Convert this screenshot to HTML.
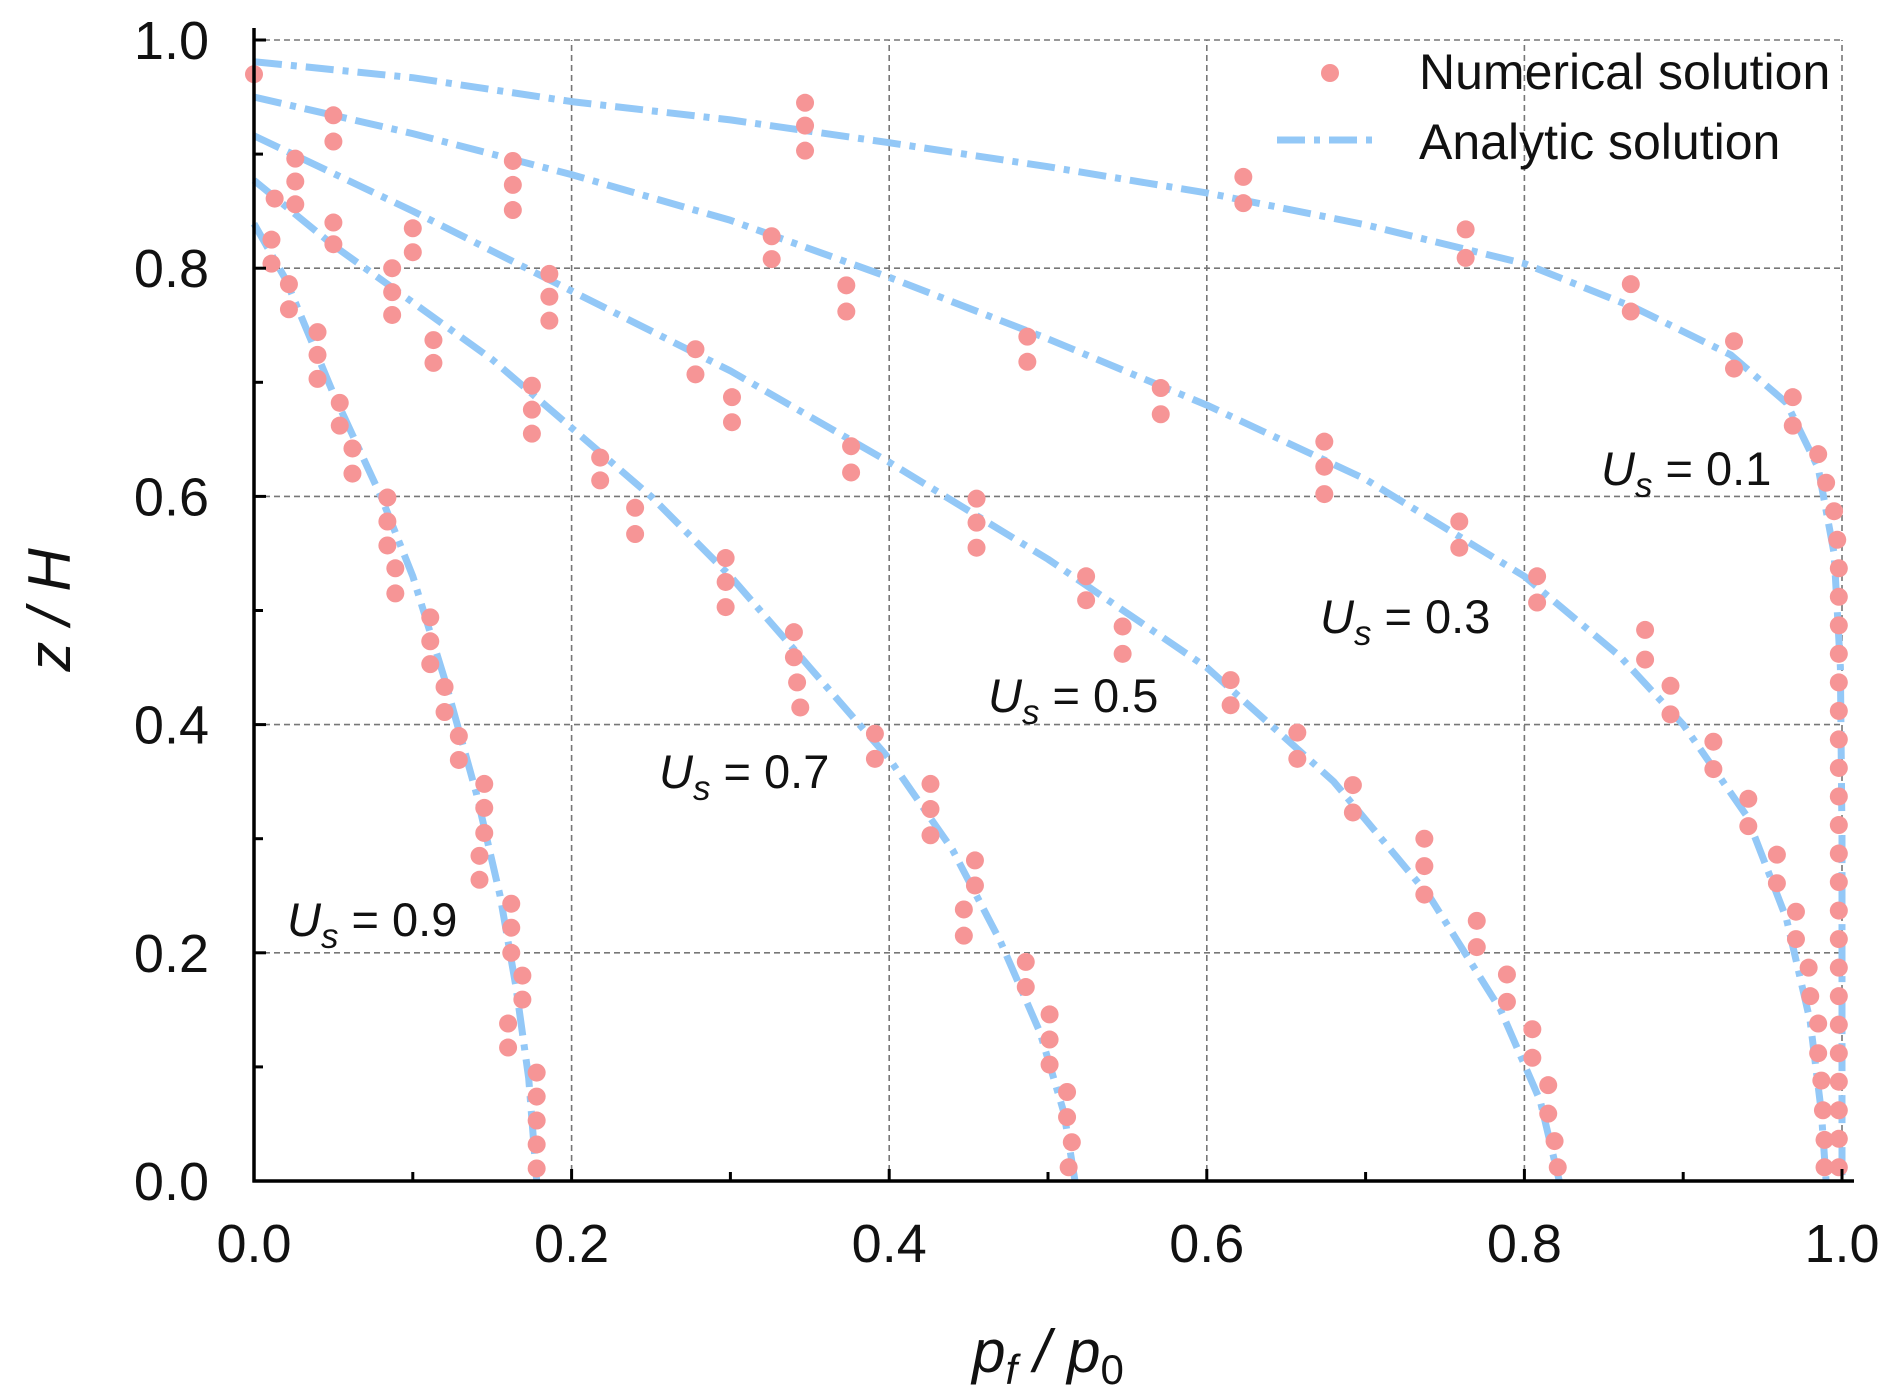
<!DOCTYPE html>
<html><head><meta charset="utf-8"><style>
html,body{margin:0;padding:0;background:#fff;}
svg{display:block;}
text{font-family:"Liberation Sans",Arial,sans-serif;fill:#111;}
</style></head><body>
<svg id="chart" width="1892" height="1400" viewBox="0 0 1892 1400" xmlns="http://www.w3.org/2000/svg">
<g id="grid"></g>
<g id="curves"></g>
<g id="dots"></g>
<g id="axes"></g>
<text x="1048" y="1372" font-size="60" font-style="italic" text-anchor="middle">p<tspan font-size="42" dy="12">f</tspan><tspan dy="-12"> / p</tspan><tspan font-size="42" dy="12" font-style="normal">0</tspan></text>
<text transform="translate(70,610) rotate(-90)" font-size="60" font-style="italic" text-anchor="middle">z / H</text>
<g>
<circle cx="1330" cy="73" r="9" fill="#f69596"/>
<text x="1419" y="89" font-size="50">Numerical solution</text>
<line x1="1277" y1="140" x2="1380" y2="140" stroke="#93c8f7" stroke-width="7" stroke-dasharray="28 9 6 9"/>
<text x="1419" y="159" font-size="50">Analytic solution</text>
</g>
<g font-size="47">
<text x="1601" y="485"><tspan font-style="italic">U</tspan><tspan font-style="italic" font-size="35" dy="12">s</tspan><tspan dy="-12"> = 0.1</tspan></text>
<text x="1320" y="633"><tspan font-style="italic">U</tspan><tspan font-style="italic" font-size="35" dy="12">s</tspan><tspan dy="-12"> = 0.3</tspan></text>
<text x="988" y="712"><tspan font-style="italic">U</tspan><tspan font-style="italic" font-size="35" dy="12">s</tspan><tspan dy="-12"> = 0.5</tspan></text>
<text x="659" y="788"><tspan font-style="italic">U</tspan><tspan font-style="italic" font-size="35" dy="12">s</tspan><tspan dy="-12"> = 0.7</tspan></text>
<text x="287" y="936"><tspan font-style="italic">U</tspan><tspan font-style="italic" font-size="35" dy="12">s</tspan><tspan dy="-12"> = 0.9</tspan></text>
</g>
</svg>
<script>
const xTicks = [0.0, 0.2, 0.4, 0.6, 0.8, 1.0];
const yTicks = [0.0, 0.2, 0.4, 0.6, 0.8, 1.0];
const tickLabels = ["0.0", "0.2", "0.4", "0.6", "0.8", "1.0"];

const curve01X = [0, 0.1, 0.2, 0.3, 0.4, 0.5, 0.6, 0.7, 0.8, 0.87, 0.93, 0.965, 0.985, 0.995, 0.999, 1.0, 1.0];
const curve01Z = [0.981, 0.967, 0.946, 0.93, 0.91, 0.889, 0.866, 0.838, 0.804, 0.765, 0.724, 0.682, 0.625, 0.55, 0.45, 0.3, 0.0];
const curve03X = [0, 0.1, 0.2, 0.3, 0.4, 0.5, 0.6, 0.7, 0.8, 0.86, 0.9, 0.94, 0.965, 0.98, 0.987, 0.99];
const curve03Z = [0.95, 0.918, 0.882, 0.842, 0.792, 0.738, 0.68, 0.615, 0.53, 0.46, 0.40, 0.32, 0.23, 0.14, 0.06, 0.0];
const curve05X = [0, 0.1, 0.2, 0.3, 0.4, 0.5, 0.6, 0.68, 0.74, 0.785, 0.81, 0.822];
const curve05Z = [0.916, 0.85, 0.78, 0.71, 0.63, 0.545, 0.45, 0.35, 0.25, 0.15, 0.07, 0.0];
const curve07X = [0, 0.05, 0.1, 0.15, 0.2, 0.25, 0.3, 0.35, 0.4, 0.44, 0.47, 0.495, 0.51, 0.517];
const curve07Z = [0.877, 0.82, 0.77, 0.72, 0.66, 0.60, 0.53, 0.45, 0.37, 0.29, 0.21, 0.13, 0.06, 0.0];
const curve09X = [0, 0.02, 0.05, 0.08, 0.1, 0.12, 0.14, 0.155, 0.165, 0.173, 0.178];
const curve09Z = [0.839, 0.79, 0.69, 0.60, 0.53, 0.44, 0.34, 0.25, 0.17, 0.09, 0.0];

const dots01X = [0, 0.347, 0.347, 0.347, 0.623, 0.623, 0.763, 0.763, 0.867, 0.867, 0.932, 0.932, 0.969, 0.969, 0.985, 0.99, 0.995, 0.997, 0.998, 0.998, 0.998, 0.998, 0.998, 0.998, 0.998, 0.998, 0.998, 0.998, 0.998, 0.998, 0.998, 0.998, 0.998, 0.998, 0.998, 0.998, 0.998, 0.998, 0.998, 0.998];
const dots01Z = [0.97, 0.945, 0.925, 0.903, 0.880, 0.857, 0.834, 0.809, 0.786, 0.762, 0.736, 0.712, 0.687, 0.662, 0.637, 0.612, 0.587, 0.562, 0.537, 0.512, 0.487, 0.462, 0.437, 0.412, 0.387, 0.362, 0.337, 0.312, 0.287, 0.262, 0.237, 0.212, 0.187, 0.162, 0.137, 0.112, 0.087, 0.062, 0.037, 0.012];
const dots03X = [0.05, 0.05, 0.163, 0.163, 0.163, 0.326, 0.326, 0.373, 0.373, 0.487, 0.487, 0.571, 0.571, 0.674, 0.674, 0.674, 0.759, 0.759, 0.808, 0.808, 0.876, 0.876, 0.892, 0.892, 0.919, 0.919, 0.941, 0.941, 0.959, 0.959, 0.971, 0.971, 0.979, 0.98, 0.985, 0.985, 0.987, 0.988, 0.989, 0.989];
const dots03Z = [0.934, 0.911, 0.894, 0.873, 0.851, 0.828, 0.808, 0.785, 0.762, 0.740, 0.718, 0.695, 0.672, 0.648, 0.626, 0.602, 0.578, 0.555, 0.530, 0.507, 0.483, 0.457, 0.434, 0.409, 0.385, 0.361, 0.335, 0.311, 0.286, 0.261, 0.236, 0.212, 0.187, 0.162, 0.138, 0.112, 0.088, 0.062, 0.036, 0.012];
const dots05X = [0.026, 0.026, 0.026, 0.1, 0.1, 0.186, 0.186, 0.186, 0.278, 0.278, 0.301, 0.301, 0.376, 0.376, 0.455, 0.455, 0.455, 0.524, 0.524, 0.547, 0.547, 0.615, 0.615, 0.657, 0.657, 0.692, 0.692, 0.737, 0.737, 0.737, 0.770, 0.770, 0.789, 0.789, 0.805, 0.805, 0.815, 0.815, 0.819, 0.821];
const dots05Z = [0.896, 0.876, 0.856, 0.835, 0.814, 0.795, 0.775, 0.754, 0.729, 0.707, 0.687, 0.665, 0.644, 0.621, 0.598, 0.577, 0.555, 0.530, 0.509, 0.486, 0.462, 0.439, 0.417, 0.393, 0.370, 0.347, 0.323, 0.300, 0.276, 0.251, 0.228, 0.205, 0.181, 0.157, 0.133, 0.108, 0.084, 0.059, 0.035, 0.012];
const dots07X = [0.013, 0.05, 0.05, 0.087, 0.087, 0.087, 0.113, 0.113, 0.175, 0.175, 0.175, 0.218, 0.218, 0.24, 0.24, 0.297, 0.297, 0.297, 0.34, 0.34, 0.342, 0.344, 0.391, 0.391, 0.426, 0.426, 0.426, 0.454, 0.454, 0.447, 0.447, 0.486, 0.486, 0.501, 0.501, 0.501, 0.512, 0.512, 0.515, 0.513];
const dots07Z = [0.861, 0.840, 0.821, 0.800, 0.779, 0.759, 0.737, 0.717, 0.697, 0.676, 0.655, 0.634, 0.614, 0.590, 0.567, 0.546, 0.525, 0.503, 0.481, 0.459, 0.437, 0.415, 0.392, 0.370, 0.348, 0.326, 0.303, 0.281, 0.259, 0.238, 0.215, 0.192, 0.170, 0.146, 0.124, 0.102, 0.078, 0.056, 0.034, 0.012];
const dots09X = [0.011, 0.011, 0.022, 0.022, 0.04, 0.04, 0.04, 0.054, 0.054, 0.062, 0.062, 0.084, 0.084, 0.084, 0.089, 0.089, 0.111, 0.111, 0.111, 0.12, 0.12, 0.129, 0.129, 0.145, 0.145, 0.145, 0.142, 0.142, 0.162, 0.162, 0.162, 0.169, 0.169, 0.16, 0.16, 0.178, 0.178, 0.178, 0.178, 0.178];
const dots09Z = [0.825, 0.804, 0.786, 0.764, 0.744, 0.724, 0.703, 0.682, 0.662, 0.642, 0.620, 0.599, 0.578, 0.557, 0.537, 0.515, 0.494, 0.473, 0.453, 0.433, 0.411, 0.390, 0.369, 0.348, 0.327, 0.305, 0.285, 0.264, 0.243, 0.222, 0.200, 0.180, 0.159, 0.138, 0.117, 0.095, 0.074, 0.053, 0.032, 0.011];

const X0 = 254, X1 = 1842, Y0 = 1181, Y1 = 40;
function sx(v){ return X0 + v * (X1 - X0); }
function sy(v){ return Y0 - v * (Y0 - Y1); }
const NS = "http://www.w3.org/2000/svg";
function mk(tag, attrs, parent){ const e = document.createElementNS(NS, tag); for (const k in attrs) e.setAttribute(k, attrs[k]); parent.appendChild(e); return e; }

const grid = document.getElementById('grid');
xTicks.forEach(function(t){ if (t === 0) return;
  const l = mk('line', {x1: sx(t), x2: sx(t), y1: sy(0), y2: sy(1), stroke: '#777', 'stroke-width': 1.6, 'stroke-dasharray': '6 4'}, grid);
  
  
});
yTicks.forEach(function(t){ if (t === 0) return;
  const l = mk('line', {x1: sx(0), x2: sx(1), y1: sy(t), y2: sy(t), stroke: '#777', 'stroke-width': 1.6, 'stroke-dasharray': '6 4'}, grid);
  
  
});

const curves = document.getElementById('curves');
const curveSets = [[curve01X, curve01Z, 'curve-us-0.1'], [curve03X, curve03Z, 'curve-us-0.3'], [curve05X, curve05Z, 'curve-us-0.5'], [curve07X, curve07Z, 'curve-us-0.7'], [curve09X, curve09Z, 'curve-us-0.9']];
curveSets.forEach(function(c){
  let d = '';
  c[0].forEach(function(x, i){ d += (i ? 'L' : 'M') + sx(x).toFixed(1) + ',' + sy(c[1][i]).toFixed(1); });
  const p = mk('path', {d: d, fill: 'none', stroke: '#93c8f7', 'stroke-width': 7, 'stroke-dasharray': '28 9 6 9', 'stroke-linejoin': 'round'}, curves);
  
  
});

const dots = document.getElementById('dots');
const dotSets = [[dots01X, dots01Z], [dots03X, dots03Z], [dots05X, dots05Z], [dots07X, dots07Z], [dots09X, dots09Z]];
dotSets.forEach(function(s){
  s[0].forEach(function(x, i){
    const c = mk('circle', {cx: sx(x), cy: sy(s[1][i]), r: 9, fill: '#f69596'}, dots);
    
    
  });
});

const axes = document.getElementById('axes');
const xa = mk('line', {x1: X0 - 1.5, x2: X1 + 12, y1: Y0, y2: Y0, stroke: '#000', 'stroke-width': 3.5}, axes);


const ya = mk('line', {x1: X0, x2: X0, y1: Y0 + 1.5, y2: Y1 - 12, stroke: '#000', 'stroke-width': 3.5}, axes);


for (let k = 0; k <= 10; k++){
  const v = k / 10, len = (k % 2 === 0) ? 12 : 9;
  const tx = mk('line', {x1: sx(v), x2: sx(v), y1: Y0, y2: Y0 - len, stroke: '#000', 'stroke-width': 3}, axes);
  
  
  const ty = mk('line', {x1: X0, x2: X0 + len, y1: sy(v), y2: sy(v), stroke: '#000', 'stroke-width': 3}, axes);
  
  
}
xTicks.forEach(function(t, i){
  const tl = mk('text', {x: sx(t), y: 1262, 'font-size': 54, 'text-anchor': 'middle'}, axes);
  tl.textContent = tickLabels[i];
  
  
});
yTicks.forEach(function(t, i){
  const tl = mk('text', {x: 209, y: sy(t) + 19, 'font-size': 54, 'text-anchor': 'end'}, axes);
  tl.textContent = tickLabels[i];
  
  
});
</script>
</body></html>
